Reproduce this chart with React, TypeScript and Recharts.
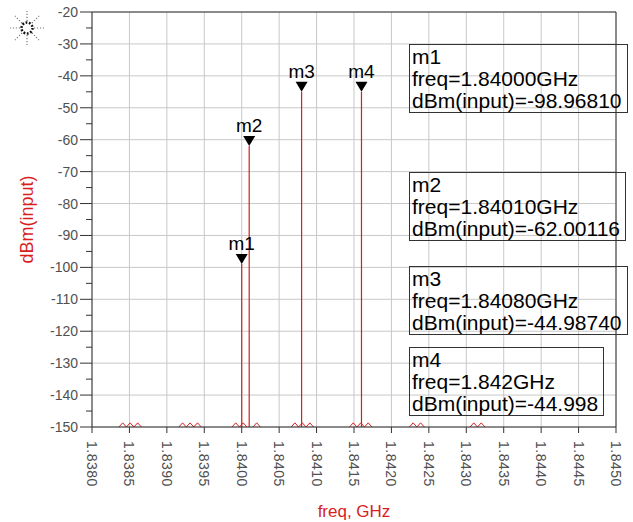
import React from 'react';
import { ComposedChart, Line, Scatter, XAxis, YAxis, CartesianGrid, ReferenceLine } from 'recharts';

// marker positions (GHz) and levels (dBm)
const markerNames = ['m1', 'm2', 'm3', 'm4'];
const markerFreqs = [1.84, 1.8401, 1.8408, 1.8416];
const markerLevels = [-98.9681, -62.00116, -44.9874, -44.998];
const markerFreqText = ['1.84000GHz', '1.84010GHz', '1.84080GHz', '1.842GHz'];
const markerLevelText = ['-98.96810', '-62.00116', '-44.98740', '-44.998'];

// small sideband wiggles sitting on the floor, null = gap
const noise = [
  { f: 1.83836, v: -150 }, { f: 1.83841, v: -148.7 }, { f: 1.83846, v: -150 }, { f: 1.83851, v: -148.7 },
  { f: 1.83856, v: -150 }, { f: 1.83861, v: -148.7 }, { f: 1.83866, v: -150 }, { f: 1.8388, v: null },
  { f: 1.83916, v: -150 }, { f: 1.83921, v: -148.7 }, { f: 1.83926, v: -150 }, { f: 1.83931, v: -148.7 },
  { f: 1.83936, v: -150 }, { f: 1.83941, v: -148.7 }, { f: 1.83946, v: -150 }, { f: 1.8396, v: null },
  { f: 1.83987, v: -150 }, { f: 1.83992, v: -148.7 }, { f: 1.83997, v: -150 }, { f: 1.84002, v: -148.7 },
  { f: 1.84007, v: -150 }, { f: 1.8401, v: null },
  { f: 1.84015, v: -150 }, { f: 1.8402, v: -148.7 }, { f: 1.84025, v: -150 }, { f: 1.8404, v: null },
  { f: 1.84066, v: -150 }, { f: 1.84071, v: -148.7 }, { f: 1.84076, v: -150 }, { f: 1.84081, v: -148.7 },
  { f: 1.84086, v: -150 }, { f: 1.84091, v: -148.7 }, { f: 1.84096, v: -150 }, { f: 1.8412, v: null },
  { f: 1.84144, v: -150 }, { f: 1.84149, v: -148.7 }, { f: 1.84154, v: -150 }, { f: 1.84159, v: -148.7 },
  { f: 1.84164, v: -150 }, { f: 1.84169, v: -148.7 }, { f: 1.84174, v: -150 }, { f: 1.8419, v: null },
  { f: 1.84224, v: -150 }, { f: 1.84229, v: -148.7 }, { f: 1.84234, v: -150 }, { f: 1.84239, v: -148.7 },
  { f: 1.84244, v: -150 }, { f: 1.8427, v: null },
  { f: 1.84305, v: -150 }, { f: 1.8431, v: -148.7 }, { f: 1.84315, v: -150 }, { f: 1.8432, v: -148.7 },
  { f: 1.84325, v: -150 },
];

const xTicks = [1.838, 1.8385, 1.839, 1.8395, 1.84, 1.8405, 1.841, 1.8415, 1.842, 1.8425, 1.843, 1.8435, 1.844, 1.8445, 1.845];
const yTicks = [-150, -145, -140, -135, -130, -125, -120, -115, -110, -105, -100, -95, -90, -85, -80, -75, -70, -65, -60, -55, -50, -45, -40, -35, -30, -25, -20];
const yMajor = [-150, -140, -130, -120, -110, -100, -90, -80, -70, -60, -50, -40, -30, -20];

const FONT = '"Liberation Sans", Arial, sans-serif';
const RED = '#d81e1e';

const markers = markerNames.map((name, i) => ({ name, f: markerFreqs[i], v: markerLevels[i] }));

const YTick = (props: any) => {
  const { x, y, payload } = props;
  const v = payload.value;
  const major = v % 10 === 0;
  const ax = x + 14;
  return (
    <g>
      <line x1={ax - (major ? 12 : 6)} x2={ax} y1={y} y2={y} stroke="#333" />
      {major && (
        <text x={ax - 14} y={y} textAnchor="end" dominantBaseline="central" fontSize={14} fill="#505050" fontFamily={FONT}>
          {v}
        </text>
      )}
    </g>
  );
};

const XTick = (props: any) => {
  const { x, y, payload } = props;
  return (
    <text
      x={x}
      y={y + 6}
      transform={`rotate(90 ${x} ${y + 6})`}
      textAnchor="start"
      dominantBaseline="central"
      fontSize={14}
      fill="#505050"
      fontFamily={FONT}
      letterSpacing={0.5}
    >
      {Number(payload.value).toFixed(4)}
    </text>
  );
};

const MarkerShape = (props: any) => {
  const { cx, cy, payload } = props;
  return (
    <g>
      <path d={`M${cx - 6},${cy - 10} L${cx + 6},${cy - 10} L${cx},${cy} Z`} fill="#000" />
      <text x={cx} y={cy - 14} textAnchor="middle" fontSize={19} fill="#000" fontFamily={FONT}>
        {payload.name}
      </text>
    </g>
  );
};

const boxTops = [44, 172, 266, 347];

function Icon() {
  const rays = [0, 45, 90, 135, 180, 225, 270, 315];
  return (
    <svg width={44} height={44} style={{ position: 'absolute', left: 5, top: 6 }}>
      {rays.map((a) => {
        const r = (a * Math.PI) / 180;
        return (
          <line key={a} x1={22 + Math.cos(r) * 7} y1={22 + Math.sin(r) * 7} x2={22 + Math.cos(r) * 17} y2={22 + Math.sin(r) * 17}
            stroke="#777" strokeWidth={1.2} strokeDasharray="1.2 1.8" />
        );
      })}
      <circle cx={22} cy={22} r={5.5} fill="none" stroke="#111" strokeWidth={2.5} strokeDasharray="1.8 1.6" />
    </svg>
  );
}

export default function App() {
  return (
    <div style={{ position: 'absolute', left: 0, top: 0, width: 633, height: 522, background: '#fff', fontFamily: FONT }}>
      <ComposedChart width={633} height={522} margin={{ top: 12, right: 17, left: 0, bottom: 0 }} style={{ fontFamily: FONT }}>
        <CartesianGrid stroke="#c8c8c8" horizontalValues={yMajor} verticalValues={xTicks} />
        <XAxis
          dataKey="f"
          type="number"
          domain={[1.838, 1.845]}
          ticks={xTicks}
          interval={0}
          height={95}
          tickSize={6}
          tickMargin={2}
          stroke="#333"
          tick={<XTick />}
          allowDataOverflow
          label={{ value: 'freq, GHz', position: 'insideBottom', offset: 5, fill: RED, fontSize: 17 }}
        />
        <YAxis
          type="number"
          domain={[-150, -20]}
          ticks={yTicks}
          width={92}
          tickSize={12}
          tickMargin={2}
          tickLine={false}
          stroke="#333"
          tick={<YTick />}
          interval={0}
          allowDataOverflow
          label={{ value: 'dBm(input)', angle: -90, position: 'insideLeft', offset: 27, fill: RED, fontSize: 18, style: { textAnchor: 'middle' } }}
        />
        <ReferenceLine y={-20} stroke="#333" />
        <ReferenceLine x={1.845} stroke="#333" />
        <Line data={noise} dataKey="v" stroke={RED} strokeWidth={1} dot={false} isAnimationActive={false} connectNulls={false} />
        {markers.map((m) => (
          <Line
            key={m.name}
            data={[{ f: m.f, v: -150 }, { f: m.f, v: m.v }]}
            dataKey="v"
            stroke={RED}
            strokeWidth={1.2}
            dot={false}
            isAnimationActive={false}
          />
        ))}
        <Scatter data={markers} dataKey="v" shape={<MarkerShape />} isAnimationActive={false} />
      </ComposedChart>
      <Icon />
      {markerNames.map((name, i) => (
        <div
          key={name}
          style={{
            position: 'absolute',
            left: 409,
            top: boxTops[i],
            border: '1px solid #333',
            padding: '1px 5px 0 2px',
            fontSize: 21,
            lineHeight: '22px',
            color: '#000',
            whiteSpace: 'nowrap',
          }}
        >
          <div>{name}</div>
          <div>freq={markerFreqText[i]}</div>
          <div>dBm(input)={markerLevelText[i]}</div>
        </div>
      ))}
    </div>
  );
}
